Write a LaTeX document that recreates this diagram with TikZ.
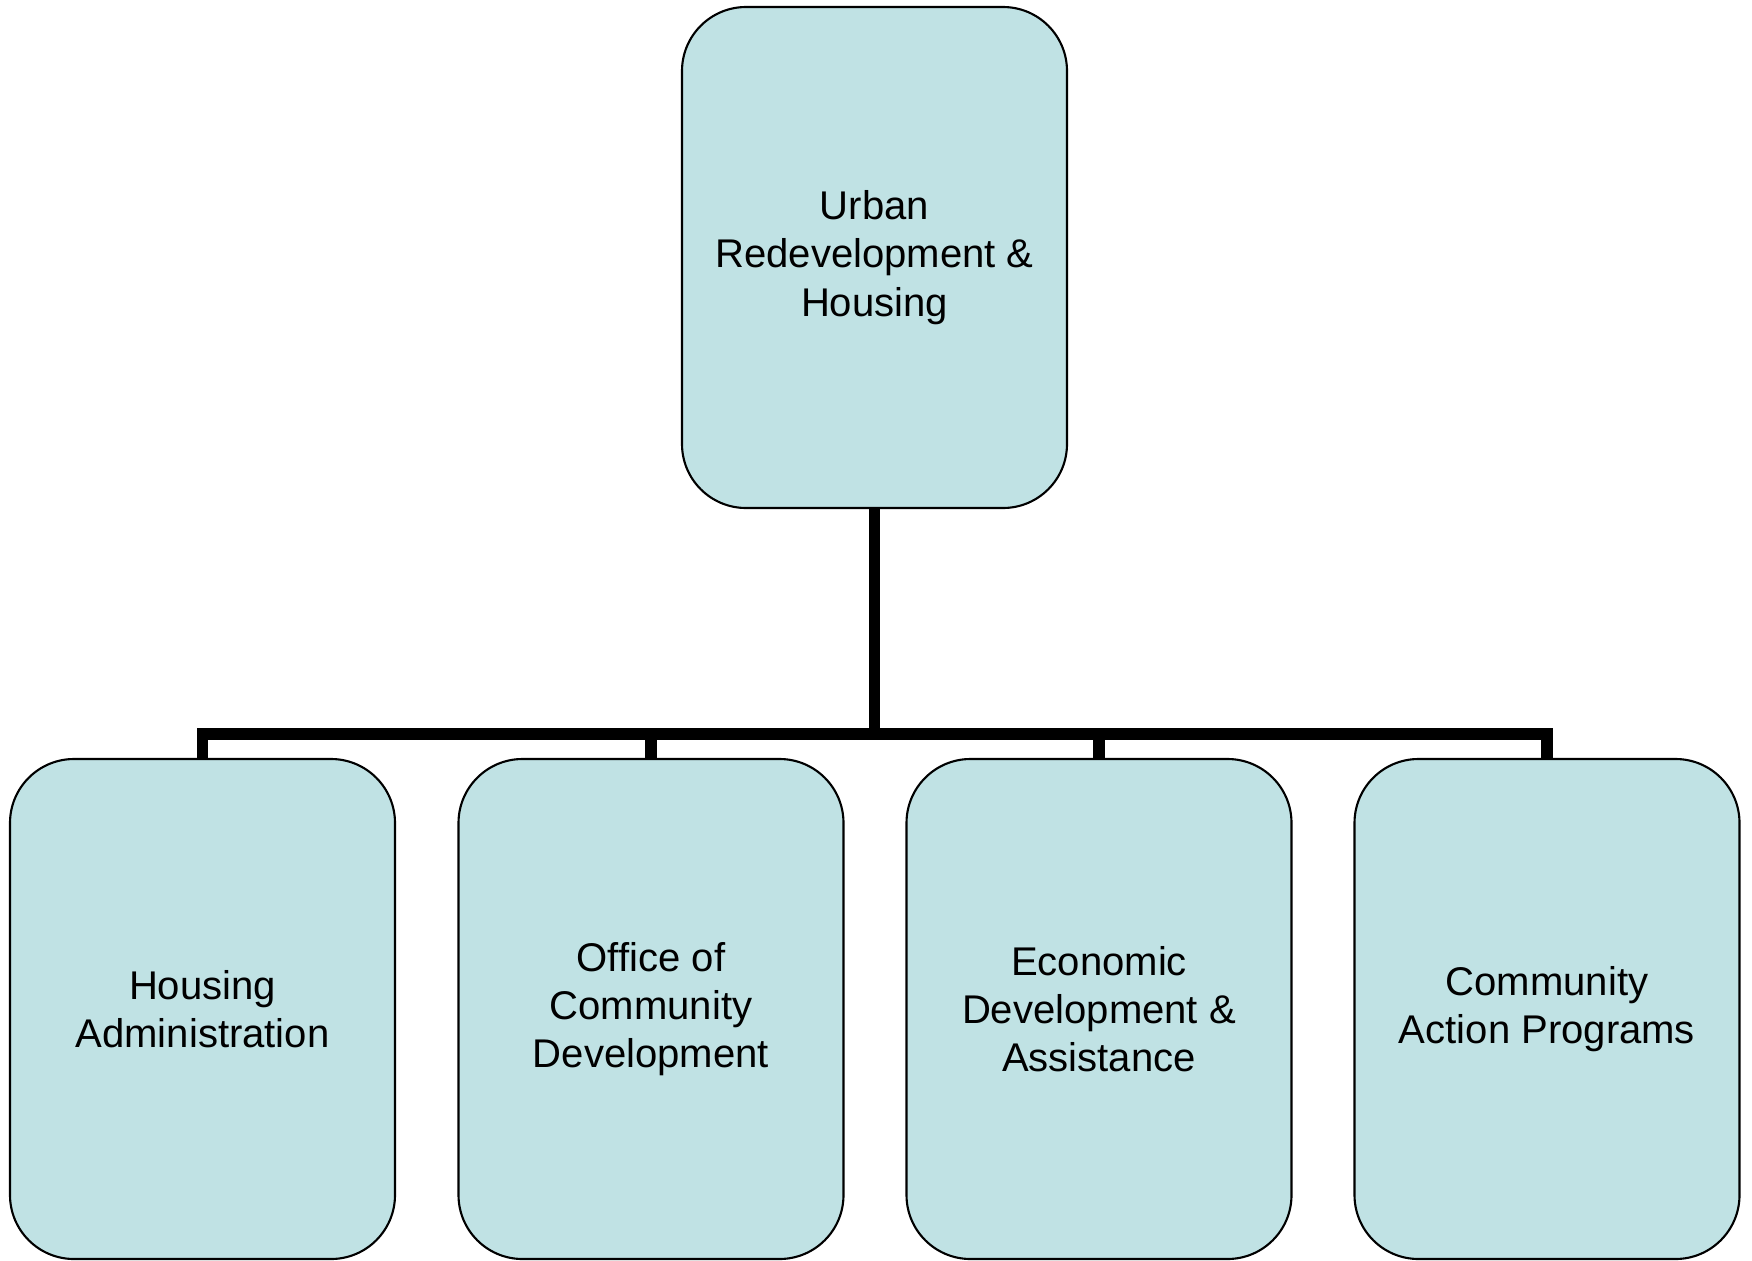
\documentclass[tikz,border=0pt]{standalone}
\usepackage{fontspec}
\setmainfont{Liberation Sans}
\usepackage{xcolor}
\usetikzlibrary{positioning}

\definecolor{boxfill}{RGB}{192,226,228}

\begin{document}
\begin{tikzpicture}[line join=miter]
  \tikzstyle{unit}=[rectangle,rounded corners=0.64cm,draw,line width=0.6pt,fill=boxfill,
    minimum width=3.85cm,minimum height=5cm,align=center,
    font=\fontsize{11.4}{13.7}\selectfont]
  \tikzstyle{link}=[line width=3.2pt]

  \useasboundingbox (0,0) rectangle (17.52,12.60);

  % head office
  \node[unit,minimum height=5.01cm] (urh) at (8.745,10.025) {Urban\\Redevelopment \&\\Housing};

  % divisions
  \node[unit] (ha)  at (2.025,2.51) {Housing\\Administration};
  \node[unit] (ocd) at (6.51,2.51)  {Office of\\Community\\Development};
  \node[unit] (eda) at (10.99,2.51) {Economic\\Development \&\\Assistance};
  \node[unit] (cap) at (15.47,2.51) {Community\\Action Programs};

  \coordinate (bus) at (urh.south |- 0,5.26);

  \draw[link] (urh.south) -- (bus);
  \draw[link] (bus) -| (ha.north);
  \draw[link] (bus) -| (ocd.north);
  \draw[link] (bus) -| (eda.north);
  \draw[link] (bus) -| (cap.north);

\end{tikzpicture}
\end{document}
